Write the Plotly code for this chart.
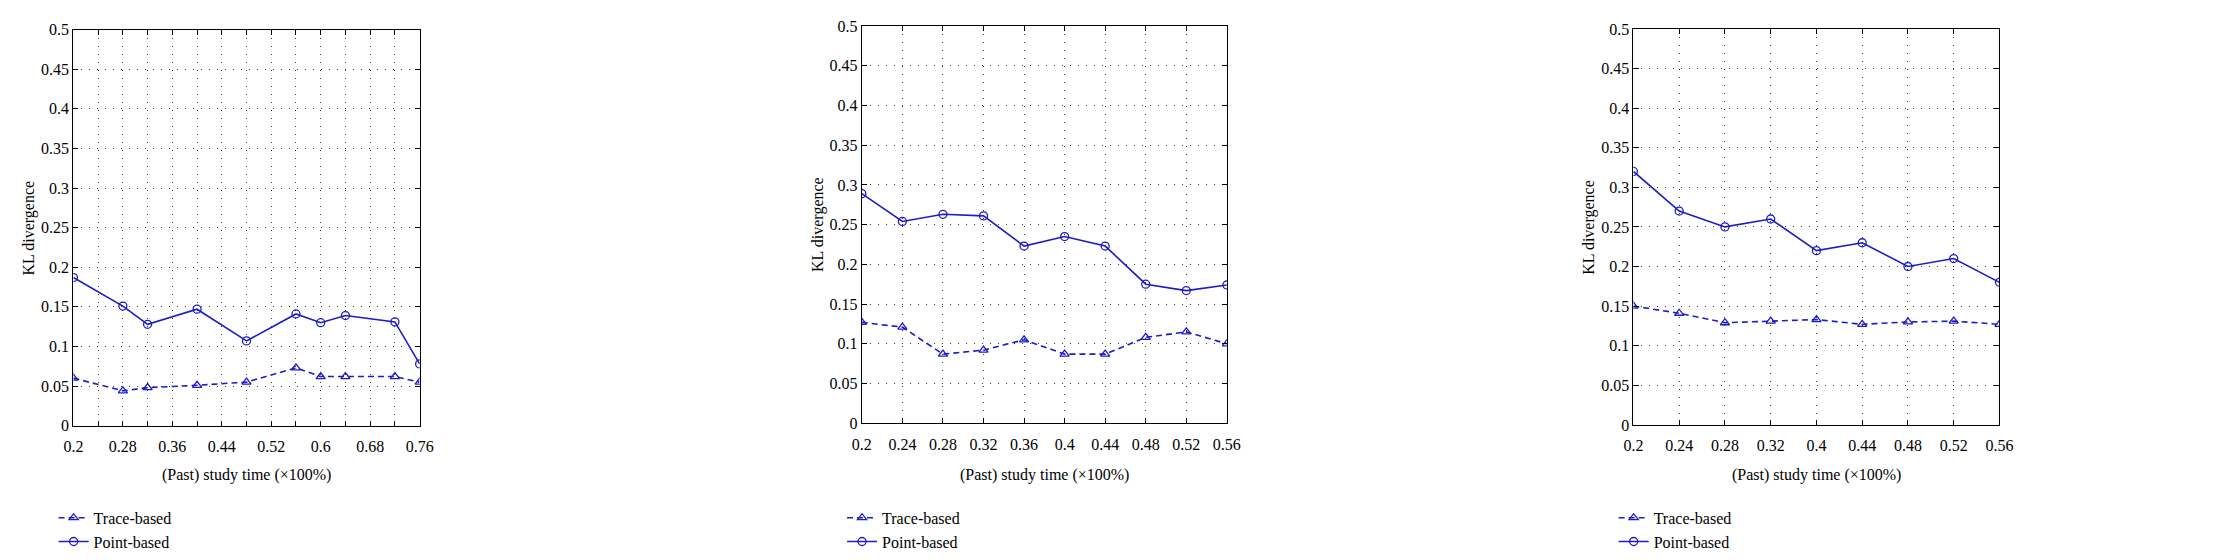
import plotly.graph_objects as go

# ---- data ----
x1 = [0.2, 0.28, 0.32, 0.40, 0.48, 0.56, 0.60, 0.64, 0.72, 0.76]
trace1 = [0.060, 0.044, 0.048, 0.051, 0.055, 0.073, 0.062, 0.062, 0.062, 0.055]
point1 = [0.187, 0.151, 0.128, 0.147, 0.107, 0.141, 0.130, 0.139, 0.131, 0.078]

x2 = [0.2, 0.24, 0.28, 0.32, 0.36, 0.40, 0.44, 0.48, 0.52, 0.56]
trace2 = [0.127, 0.121, 0.087, 0.092, 0.105, 0.087, 0.087, 0.108, 0.115, 0.100]
point2 = [0.289, 0.254, 0.263, 0.261, 0.223, 0.235, 0.223, 0.175, 0.167, 0.174]

x3 = ["0.2", "0.24", "0.28", "0.32", "0.4", "0.44", "0.48", "0.52", "0.56"]
trace3 = [0.150, 0.141, 0.129, 0.131, 0.133, 0.127, 0.130, 0.131, 0.127]
point3 = [0.320, 0.270, 0.250, 0.260, 0.220, 0.230, 0.200, 0.210, 0.180]

x1_ticks = [0.2, 0.24, 0.28, 0.32, 0.36, 0.40, 0.44, 0.48, 0.52, 0.56, 0.60, 0.64, 0.68, 0.72, 0.76]
x1_ticklabels = ["0.2", "", "0.28", "", "0.36", "", "0.44", "", "0.52", "", "0.6", "", "0.68", "", "0.76"]
x2_ticks = x2
x2_ticklabels = ["0.2", "0.24", "0.28", "0.32", "0.36", "0.4", "0.44", "0.48", "0.52", "0.56"]

y_ticks = [0, 0.05, 0.1, 0.15, 0.2, 0.25, 0.3, 0.35, 0.4, 0.45, 0.5]
y_ticklabels = ["0", "0.05", "0.1", "0.15", "0.2", "0.25", "0.3", "0.35", "0.4", "0.45", "0.5"]

series_names = ["Trace-based", "Point-based"]
x_title = "(Past) study time (\u00d7100%)"
y_title = "KL divergence"

# ---- style ----
W, H = 2232, 560
BLUE = "rgb(28,28,200)"
FONT = "Liberation Serif, Times New Roman, serif"
FS = 16

# pixel geometry of panels (left, right, top, bottom)
panels = [(56, 406, 14, 422.5), (853, 1222, 10.3, 420), (1633, 2003, 13.3, 421.7)]

fig = go.Figure()

data = [(x1, trace1, point1), (x2, trace2, point2), (x3, trace3, point3)]
for i, (xs, tr, pt) in enumerate(data):
    sfx = "" if i == 0 else str(i + 1)
    leg = "legend" + sfx
    fig.add_trace(go.Scatter(
        x=xs, y=tr, name=series_names[0], mode="lines+markers",
        line=dict(color=BLUE, width=1.6, dash="6px,4px"),
        marker=dict(symbol="triangle-up-open", size=8, color=BLUE, line=dict(width=1.3, color=BLUE)),
        xaxis="x" + sfx, yaxis="y" + sfx, legend=leg))
    fig.add_trace(go.Scatter(
        x=xs, y=pt, name=series_names[1], mode="lines+markers",
        line=dict(color=BLUE, width=1.6),
        marker=dict(symbol="circle-open", size=8, color=BLUE, line=dict(width=1.3, color=BLUE)),
        xaxis="x" + sfx, yaxis="y" + sfx, legend=leg))

layout = dict(
    width=W, height=H,
    margin=dict(l=0, r=0, t=0, b=0),
    paper_bgcolor="white", plot_bgcolor="white",
    font=dict(family=FONT, size=FS, color="black"),
    showlegend=True,
)

common_axis = dict(
    showline=True, linecolor="black", linewidth=1.2, mirror="allticks",
    ticks="inside", ticklen=5, tickcolor="black", tickwidth=1,
    showgrid=True, gridcolor="rgb(60,60,60)", griddash="1px,7px", gridwidth=1,
    zeroline=False, tickfont=dict(family=FONT, size=FS, color="black"),
)

annotations = []
for i, (l, r, t, b) in enumerate(panels):
    sfx = "" if i == 0 else str(i + 1)
    xd = [l / W, r / W]
    yd = [1 - b / H, 1 - t / H]
    xa = dict(common_axis, domain=xd, anchor="y" + sfx, ticklabelstandoff=6)
    if i == 0:
        xa.update(range=[0.2, 0.76], tickmode="array", tickvals=x1_ticks, ticktext=x1_ticklabels)
    elif i == 1:
        xa.update(range=[0.2, 0.56], tickmode="array", tickvals=x2_ticks, ticktext=x2_ticklabels)
    else:
        xa.update(type="category", range=[0, len(x3) - 1])
    ya = dict(common_axis, domain=yd, anchor="x" + sfx, range=[0, 0.5],
              tickmode="array", tickvals=y_ticks, ticktext=y_ticklabels)
    layout["xaxis" + sfx] = xa
    layout["yaxis" + sfx] = ya
    layout["legend" + sfx] = dict(
        x=(l - 20) / W, xanchor="left", y=1 - 500 / H, yanchor="top",
        bgcolor="rgba(0,0,0,0)", font=dict(family=FONT, size=FS, color="black"),
        tracegroupgap=0,
    )
    annotations.append(dict(
        text=x_title, x=(l + r) / 2 / W, y=1 - 473 / H, xref="paper", yref="paper",
        xanchor="center", yanchor="middle", showarrow=False,
        font=dict(family=FONT, size=FS, color="black")))
    annotations.append(dict(
        text=y_title, x=(l - 45) / W, y=1 - (t + b) / 2 / H, xref="paper", yref="paper",
        xanchor="center", yanchor="middle", showarrow=False, textangle=-90,
        font=dict(family=FONT, size=FS, color="black")))

layout["annotations"] = annotations
fig.update_layout(**layout)
fig.write_html("out.html")
